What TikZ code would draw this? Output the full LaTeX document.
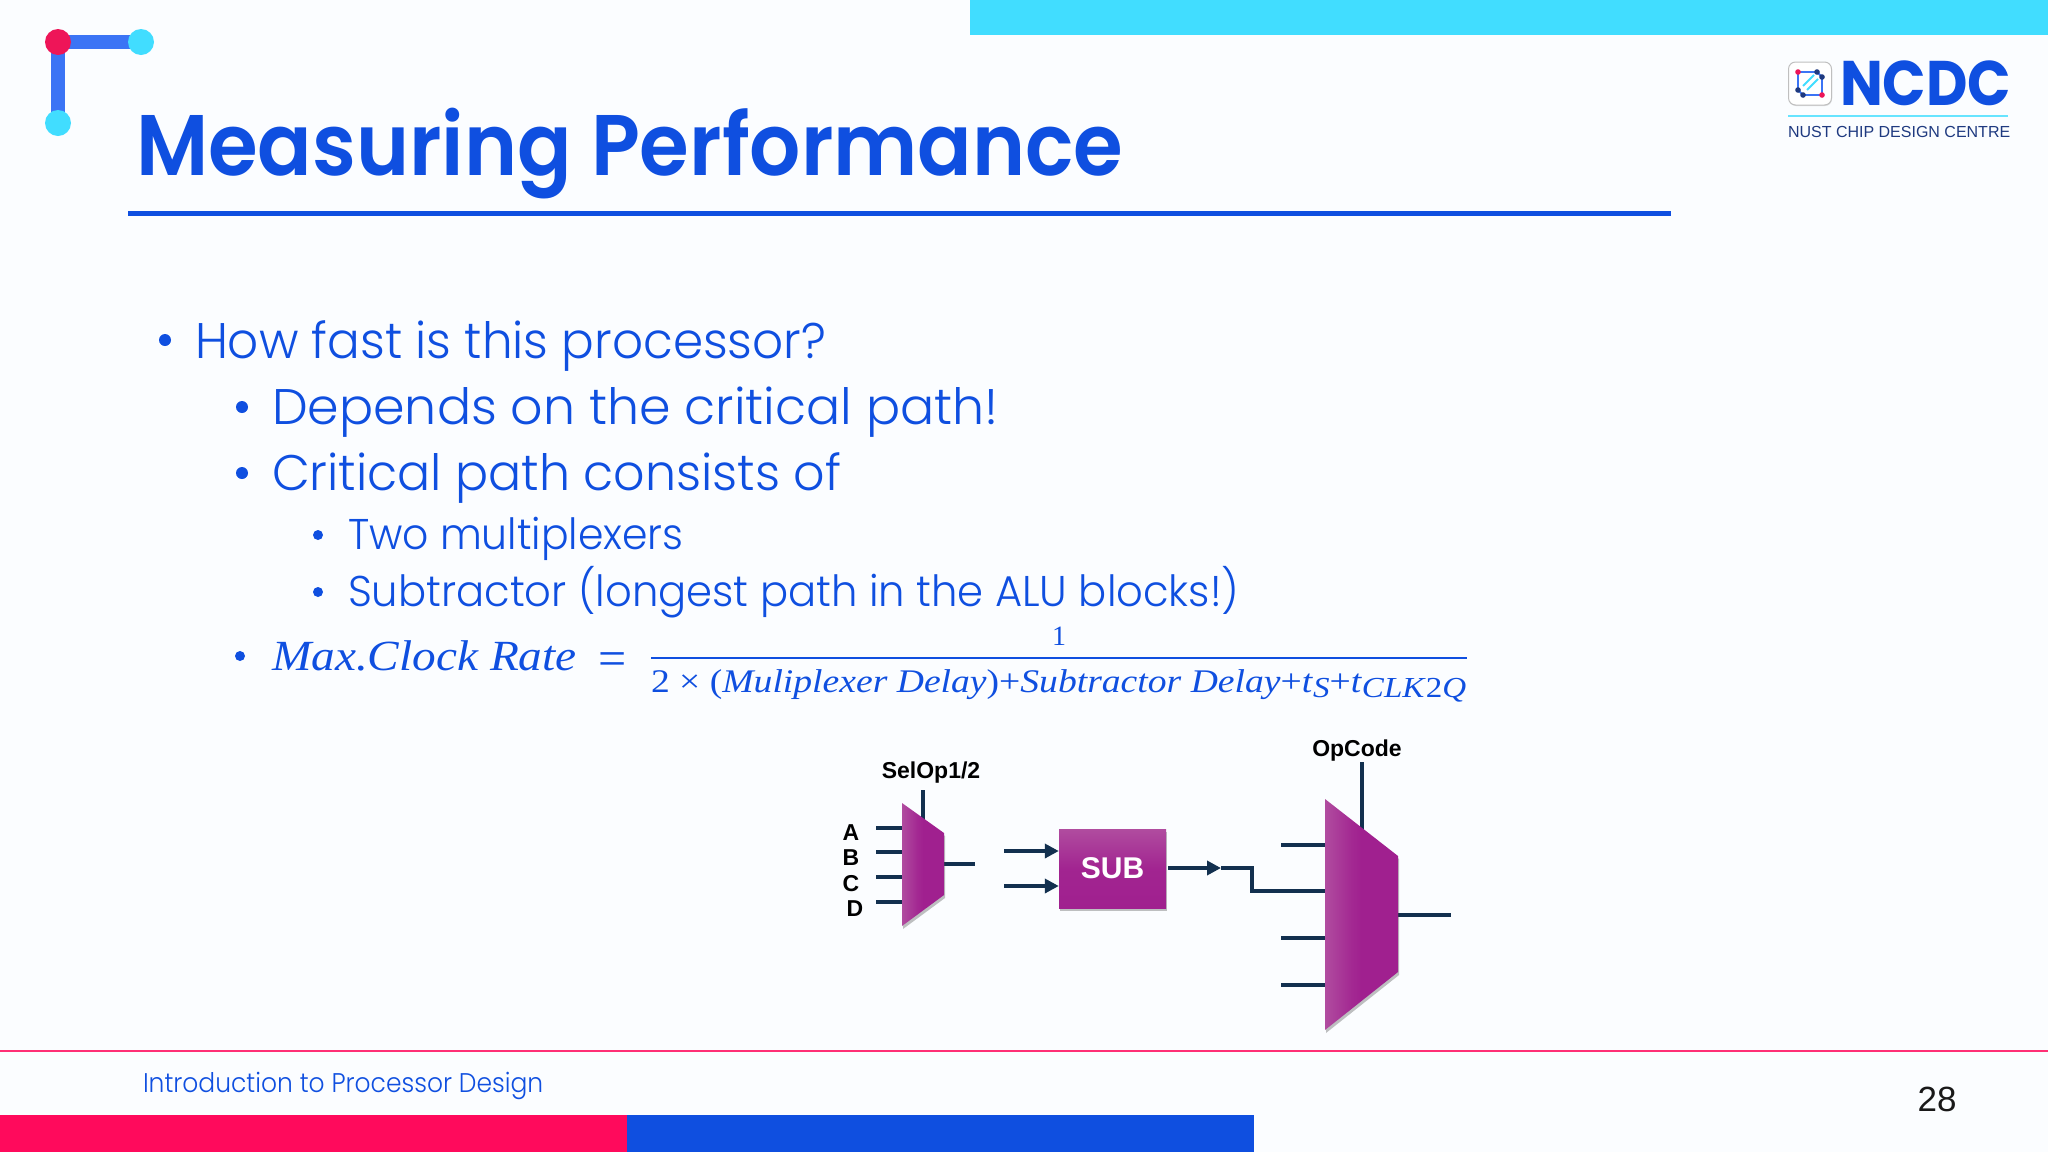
\documentclass[tikz,border=0pt]{standalone}
\usepackage{fontspec}
\usetikzlibrary{arrows.meta,shadows}
\setmainfont{Liberation Sans}
\newfontfamily\titlefont{Poppins SemiBold}
\newfontfamily\bodyfont{Poppins Light}
\newfontfamily\logofont{Poppins}
\newfontfamily\mathfontit{Liberation Serif}
\newfontfamily\diagfont{Liberation Sans}
\newcommand{\fs}[1]{\fontsize{#1}{#1}\selectfont}
\newcommand{\hs}[2]{\scalebox{#1}[1]{#2}}
\definecolor{pagebg}{HTML}{FBFDFF}
\definecolor{cyanbar}{HTML}{41DDFF}
\definecolor{royal}{HTML}{0F4FE0}
\definecolor{midblue}{HTML}{3B74F5}
\definecolor{rosered}{HTML}{EE1558}
\definecolor{barpink}{HTML}{FF0A5C}
\definecolor{wire}{HTML}{12304F}
\definecolor{logonavy}{HTML}{1F3A80}
\definecolor{purpleL}{HTML}{B04C9F}
\definecolor{purpleD}{HTML}{A0208F}
\pgfdeclarehorizontalshading{muxshade}{100bp}{color(0bp)=(purpleL); color(25bp)=(purpleL); color(43bp)=(purpleD!80!purpleL); color(50bp)=(purpleD); color(100bp)=(purpleD)}
\tikzset{
  txt/.style={anchor=base west,inner sep=0pt,outer sep=0pt},
  lvlone/.style={txt,font=\bodyfont\fs{50},text=royal},
  lvltwo/.style={txt,font=\bodyfont\fs{43},text=royal},
  bul/.style={circle,fill=royal,inner sep=0pt,minimum size=#1},
  wireline/.style={draw=wire,line width=4.5pt},
  wirearrow/.style={wireline,-{Triangle[length=14pt,width=14pt]}},
  softshadow/.style={drop shadow={shadow xshift=1pt,shadow yshift=-3pt,opacity=.35,fill=black!70}},
  muxbody/.style={shading=muxshade,softshadow},
  lab/.style={inner sep=0pt,font=\diagfont\bfseries\fs{23},text=black},
  dot/.style={circle,inner sep=0pt,minimum size=#1},
}
\begin{document}
\begin{tikzpicture}[x=1pt,y=-1pt]
\useasboundingbox[fill=pagebg] (0,0) rectangle (2048,1152);
% frame
\fill[cyanbar] (970,0) rectangle (2048,35);
\node[dot=26pt] (corner) at (58,42) {};
\node[dot=26pt] (right) at (141,42) {};
\node[dot=26pt] (down) at (58,123) {};
\draw[midblue,line width=14pt] (corner.center) -- (right.center) (corner.center) -- (down.center);
\fill[rosered] (corner) circle (13);
\fill[cyanbar] (right) circle (13);
\fill[cyanbar] (down) circle (13);
% title
\node[txt,font=\titlefont\fs{86},text=royal] (title) at (136,175) {\hs{0.935}{Measuring Performance}};
\fill[royal] (128,210.5) rectangle (1671,215.5);
% bullets
\node[bul=12pt] (b1) at (165,340) {};
\node[lvlone] (t1) at (195,358) {\hs{0.97}{How fast is this processor?}};
\node[bul=12pt] (b2) at (242,407) {};
\node[lvlone] (t2) at (272,424) {\hs{1.013}{Depends on the critical path!}};
\node[bul=12pt] (b3) at (242,473) {};
\node[lvlone] (t3) at (272,490) {\hs{0.982}{Critical path consists of}};
\node[bul=10pt] (b4) at (318,535) {};
\node[lvltwo] (t4) at (348,549) {\hs{0.952}{Two multiplexers}};
\node[bul=10pt] (b5) at (318,592) {};
\node[lvltwo] (t5) at (348,606) {\hs{0.97}{Subtractor (longest path in the ALU blocks!)}};
% formula
\node[bul=10pt] (b6) at (240,656) {};
\node[txt,font=\mathfontit\itshape\fs{43},text=royal] (mcr) at (272,670) {\hs{1.1}{Max.Clock Rate}};
\node[txt,font=\mathfontit\fs{50},text=royal] (eq) at (598,675) {=};
\node[anchor=base,inner sep=0pt,font=\mathfontit\fs{28},text=royal] (one) at (1059,645) {1};
\fill[royal] (651,656.5) rectangle (1467,659);
\node[txt,font=\mathfontit\fs{33},text=royal] (den) at (651,692) {\hs{1.14}{2 × (\textit{Muliplexer Delay})+\textit{Subtractor Delay}+\textit{t}\raisebox{-5pt}{\fs{29}\textit{S}}+\textit{t}\raisebox{-5pt}{\fs{29}\textit{CLK}2\textit{Q}}}};
% small mux
\coordinate (selT) at (923,790);
\coordinate (selB) at (923,822);
\draw[wireline] (selT) -- (selB);
\foreach \n/\y in {a/828,b/852,c/877,d/902}{
  \coordinate (m1\n) at (876,\y);
  \coordinate (m1\n e) at (903,\y);
  \draw[wireline] (m1\n) -- (m1\n e);
}
\coordinate (m1o) at (943,864);
\coordinate (m1oe) at (975,864);
\draw[wireline] (m1o) -- (m1oe);
\path[muxbody] (902,803) -- (944,833) -- (944,895) -- (902,926) -- cycle;
\node[lab] (la) at (851,833) {A};
\node[lab] (lb) at (851,858) {B};
\node[lab] (lc) at (851,884) {C};
\node[lab] (ld) at (855,909) {D};
\node[lab] (sel) at (931,772.5) {SelOp1/2};
% sub
\node[minimum width=107pt,minimum height=79pt,inner sep=0pt,top color=purpleL,bottom color=purpleD,middle color=purpleD!90!purpleL,softshadow,font=\diagfont\bfseries\fs{30},text=white] (sub) at (1112.5,868.5) {\raisebox{-2pt}{SUB}};
\coordinate (in1) at (1004,851);
\coordinate (in1e) at (sub.west |- in1);
\coordinate (in2) at (1004,886);
\coordinate (in2e) at (sub.west |- in2);
\draw[wirearrow] (in1) -- (in1e);
\draw[wirearrow] (in2) -- (in2e);
\coordinate (outS) at (1168,868);
\coordinate (outE) at (1221,868);
\draw[wirearrow] (outS) -- (outE);
% big mux
\coordinate (opT) at (1362,762);
\coordinate (opB) at (1362,830);
\draw[wireline] (opT) -- (opB);
\foreach \n/\y in {a/845,b/891,c/938,d/985}{
  \coordinate (m2\n) at (1281,\y);
  \coordinate (m2\n e) at (1326,\y);
  \draw[wireline] (m2\n) -- (m2\n e);
}
\draw[wireline,line join=miter] (outE) -- (1252,868) -- (1252,891) -- (m2a |- m2b);
\coordinate (m2o) at (1396,915);
\coordinate (m2oe) at (1451,915);
\draw[wireline] (m2o) -- (m2oe);
\path[muxbody] (1325,799) -- (1398,856) -- (1398,972) -- (1325,1030) -- cycle;
\node[lab] (opc) at (1357,751) {OpCode};
% logo
\node[draw=black!25,line width=1pt,fill=white,rounded corners=7pt,minimum size=43pt,inner sep=0pt,drop shadow={shadow xshift=.5pt,shadow yshift=-1pt,opacity=.25}] (lbox) at (1810,83.5) {};
\coordinate (q1) at (1798,72);
\coordinate (q2) at (1817,72);
\coordinate (q3) at (1822,77);
\coordinate (q4) at (1822,95);
\coordinate (q5) at (1803,95);
\coordinate (q6) at (1798,90);
\draw[midblue,line width=1.8pt] (q1) -- (q2) -- (q3) -- (q4) -- (q5) -- (q6) -- cycle;
\draw[cyanbar,line width=2pt] (1803,86) -- (1814,75) (1807,90) -- (1818,79);
\fill[rosered] (q1) circle (2.8) (q4) circle (2.8);
\fill[logonavy] (q2) circle (2.8) (q3) circle (2.8) (q5) circle (2.8) (q6) circle (2.8);
\node[txt,font=\logofont\bfseries\fs{63},text=royal] (ncdc) at (1840,105.5) {\hs{0.905}{NCDC}};
\fill[cyanbar!80] (1788,115) rectangle (2008,117);
\node[txt,font=\diagfont\fs{16},text=logonavy] (nust) at (1788,137) {NUST CHIP DESIGN CENTRE};
% footer
\fill[barpink!85] (0,1050) rectangle (2048,1052);
\fill[barpink] (0,1115) rectangle (627,1152);
\fill[royal] (627,1115) rectangle (1254,1152);
\node[txt,font=\bodyfont\fs{27},text=royal] (foot) at (143,1092) {\hs{0.925}{Introduction to Processor Design}};
\node[inner sep=0pt,font=\diagfont\fs{35},text=black!90] (page) at (1937,1099) {28};
\end{tikzpicture}
\end{document}
